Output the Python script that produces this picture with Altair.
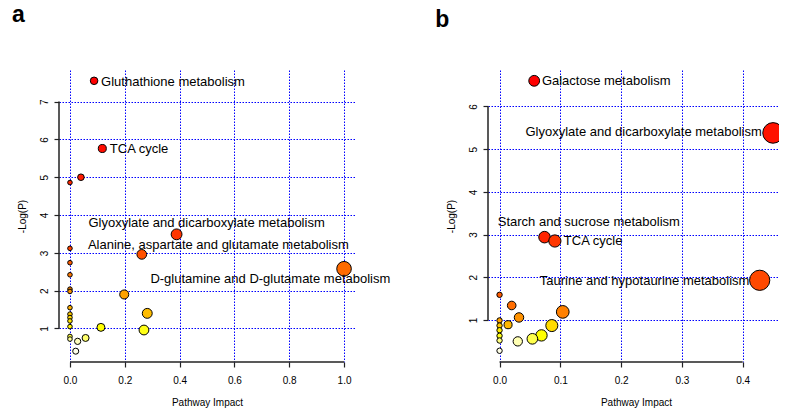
import colorsys
import altair as alt
import pandas as pd

# ---------------- Panel a ----------------
a_impact = [0.088, 0.118, 0.040, 0.0, 0.389, 0.262, 1.000, 0.0, 0.0, 0.0, 0.0, 0.0, 0.198,
            0.0, 0.282, 0.0, 0.0, 0.0, 0.0, 0.113, 0.270, 0.0, 0.057, 0.0, 0.028, 0.021]
a_logp = [7.55, 5.76, 5.00, 4.86, 3.49, 2.96, 2.58, 3.12, 2.74, 2.42, 2.04, 1.98, 1.90,
          1.55, 1.40, 1.38, 1.29, 1.20, 1.05, 1.03, 0.96, 0.79, 0.75, 0.72, 0.66, 0.40]
a_names = ["Gluthathione metabolism", "TCA cycle", "", "",
           "Glyoxylate and dicarboxylate metabolism",
           "Alanine, aspartate and glutamate metabolism",
           "D-glutamine and D-glutamate metabolism"] + [""] * 19
a_xticks = [0.0, 0.2, 0.4, 0.6, 0.8, 1.0]
a_yticks = [1, 2, 3, 4, 5, 6, 7]

# ---------------- Panel b ----------------
b_impact = [0.057, 0.450, 0.074, 0.091, 0.428, 0.0, 0.020, 0.104, 0.032, 0.014, 0.0, 0.0,
            0.086, 0.0, 0.069, 0.0, 0.054, 0.0, 0.030, 0.0]
b_logp = [6.60, 5.38, 2.94, 2.85, 1.93, 1.59, 1.34, 1.19, 1.06, 0.89, 0.99, 0.87,
          0.87, 0.76, 0.64, 0.63, 0.56, 0.52, 0.50, 0.28]
b_names = ["Galactose metabolism", "Glyoxylate and dicarboxylate metabolism",
           "Starch and sucrose metabolism", "TCA cycle",
           "Taurine and hypotaurine metabolism"] + [""] * 15
b_xticks = [0.0, 0.1, 0.2, 0.3, 0.4]
b_yticks = [1, 2, 3, 4, 5, 6]

FONT = "Liberation Sans"


def heat_colors(n):
    """R's heat.colors(n)."""
    j = n // 4
    i = n - j
    out = []
    for k in range(i):
        h = (1 / 6) * k / (i - 1) if i > 1 else 0
        r, g, b = colorsys.hsv_to_rgb(h, 1, 1)
        out.append('#%02X%02X%02X' % (round(r * 255), round(g * 255), round(b * 255)))
    if j > 0:
        s0, s1 = 1 - 1 / (2 * j), 1 / (2 * j)
        for k in range(j):
            s = s0 + (s1 - s0) * k / (j - 1) if j > 1 else s0
            r, g, b = colorsys.hsv_to_rgb(1 / 6, s, 1)
            out.append('#%02X%02X%02X' % (round(r * 255), round(g * 255), round(b * 255)))
    return out


def make_df(impact, logp, names, r0, k):
    df = pd.DataFrame({"impact": impact, "logp": logp, "name": names})
    pal = heat_colors(len(df))
    rank = df["logp"].rank(ascending=False, method="first").astype(int) - 1
    df["col"] = [pal[r] for r in rank]
    xmax = df["impact"].max()
    df["sz"] = [(2 * (r0 + k * (v / xmax) ** 0.5)) ** 2 for v in df["impact"]]
    return df


def panel(df, xdom, ydom, xticks, yticks, xfmt, label_style, letter, ldx, ldy, w, h):
    xscale = alt.Scale(domain=xdom, nice=False, zero=False)
    yscale = alt.Scale(domain=ydom, nice=False, zero=False)
    xaxis = alt.Axis(values=xticks, format=xfmt, title="Pathway Impact", domain=False,
                     grid=True, gridColor="#0000FF", gridDash=[1.5, 1.5], gridWidth=1,
                     ticks=True, tickSize=5, tickColor="#222222", tickWidth=1.2,
                     labelFontSize=10, labelFont=FONT, labelColor="black", labelPadding=8,
                     labelFlush=False, titleFont=FONT, titleFontSize=10,
                     titleFontWeight="normal", titleColor="black", titlePadding=12)
    yaxis = alt.Axis(values=yticks, format="d", title="-Log(P)", domain=False,
                     grid=True, gridColor="#0000FF", gridDash=[1.5, 1.5], gridWidth=1,
                     ticks=True, tickSize=5, tickColor="#222222", tickWidth=1.2,
                     labelFontSize=10, labelFont=FONT, labelColor="black",
                     labelAngle=270, labelAlign="center", labelBaseline="bottom",
                     labelPadding=5, labelFlush=False, titleFont=FONT, titleFontSize=10,
                     titleFontWeight="normal", titleColor="black", titlePadding=12)

    pts = alt.Chart(df).mark_circle(stroke="black", strokeWidth=1, opacity=1).encode(
        x=alt.X("impact:Q", scale=xscale, axis=xaxis),
        y=alt.Y("logp:Q", scale=yscale, axis=yaxis),
        size=alt.Size("sz:Q", scale=None, legend=None),
        fill=alt.Fill("col:N", scale=None, legend=None),
    )
    one = alt.Data(values=[{}])
    yline = alt.Chart(one).mark_rule(color="#222222", strokeWidth=1.5).encode(
        x=alt.value(0), y=alt.datum(yticks[0]), y2=alt.datum(yticks[-1]))
    xline = alt.Chart(one).mark_rule(color="#222222", strokeWidth=1.5).encode(
        y=alt.value(h), x=alt.datum(xticks[0]), x2=alt.datum(xticks[-1]))

    layers = [yline, xline, pts]
    for name, (dx, dy, align) in label_style.items():
        sub = df[df["name"] == name]
        layers.append(
            alt.Chart(sub).mark_text(dx=dx, dy=dy, align=align, baseline="middle",
                                     fontSize=13, font=FONT, color="black").encode(
                x="impact:Q", y="logp:Q", text="name:N"))
    return alt.layer(*layers).properties(
        width=w, height=h,
        title=alt.TitleParams(text=letter, anchor="start", frame="group", fontSize=23,
                              fontWeight="bold", font=FONT, color="black", offset=0,
                              baseline="alphabetic", dx=ldx, dy=ldy),
    )


df_a = make_df(a_impact, a_logp, a_names, 2.3, 5.0)
df_b = make_df(b_impact, b_logp, b_names, 2.7, 7.6)

style_a = {
    "Gluthathione metabolism": (7, 1, "left"),
    "TCA cycle": (7.5, 0.5, "left"),
    "Glyoxylate and dicarboxylate metabolism": (30, -11, "center"),
    "Alanine, aspartate and glutamate metabolism": (76.6, -9.3, "center"),
    "D-glutamine and D-glutamate metabolism": (-73.7, 10.7, "center"),
}
style_b = {
    "Galactose metabolism": (7.7, 0, "left"),
    "Glyoxylate and dicarboxylate metabolism": (-11.3, -0.5, "right"),
    "Starch and sucrose metabolism": (44.3, -15.6, "center"),
    "TCA cycle": (9, 0, "left"),
    "Taurine and hypotaurine metabolism": (-10.3, 0.3, "right"),
}

pa = panel(df_a, [-0.04, 1.04], [0.114, 7.836], a_xticks, a_yticks, ".1f", style_a,
           "a", -47, -25, 296, 292)
pb = panel(df_b, [-0.019, 0.468], [0.017, 6.853], b_xticks, b_yticks, ".1f", style_b,
           "b", -52.7, -20, 296, 292)

chart = alt.hconcat(pa, pb, spacing=133, bounds="flush").properties(
    autosize=alt.AutoSizeParams(type="none"),
    padding={"left": 51, "top": 62, "right": 720, "bottom": 335},
).configure_view(stroke=None)

chart.save("out.html", embed_options={"renderer": "svg", "actions": False})
